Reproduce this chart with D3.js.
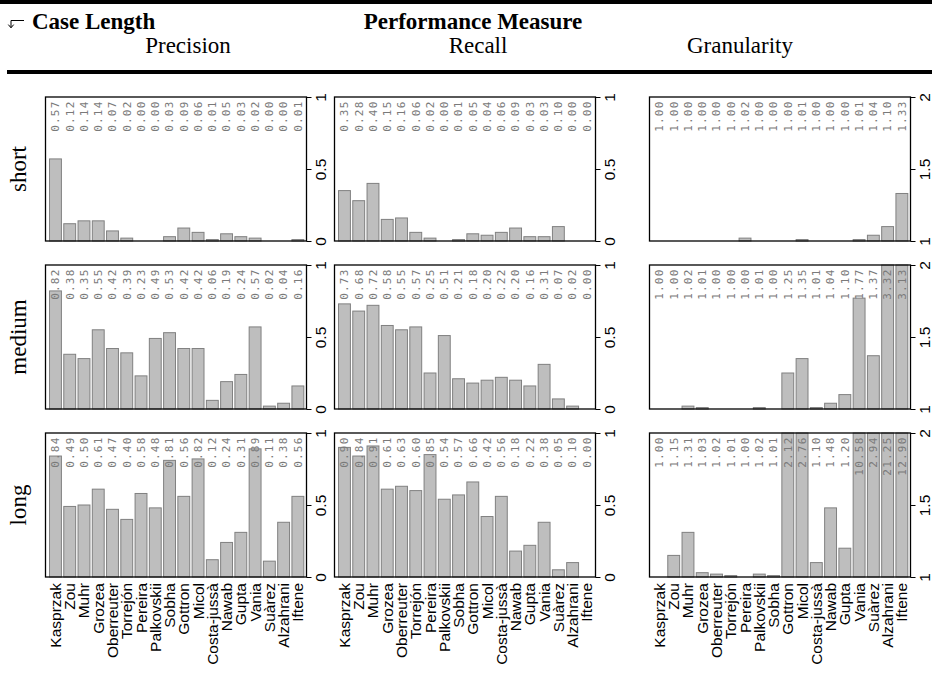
<!DOCTYPE html>
<html><head><meta charset="utf-8">
<script src="https://cdn.jsdelivr.net/npm/d3@7/dist/d3.min.js"></script>
<style>body{margin:0;background:#fff}svg{display:block}</style>
</head><body>
<svg id="c" width="932" height="682"></svg>
<script>
const methods = ["Kasprzak","Zou","Muhr","Grozea","Oberreuter","Torrejón","Pereira","Palkovskii","Sobha","Gottron","Micol","Costa-jussà","Nawab","Gupta","Vania","Suàrez","Alzahrani","Iftene"];
const rowNames = ["short","medium","long"];
const measureNames = ["Precision","Recall","Granularity"];

const precisionShort  = [0.57,0.12,0.14,0.14,0.07,0.02,0.00,0.00,0.03,0.09,0.06,0.01,0.05,0.03,0.02,0.00,0.00,0.01];
const precisionMedium = [0.82,0.38,0.35,0.55,0.42,0.39,0.23,0.49,0.53,0.42,0.42,0.06,0.19,0.24,0.57,0.02,0.04,0.16];
const precisionLong   = [0.84,0.49,0.50,0.61,0.47,0.40,0.58,0.48,0.81,0.56,0.82,0.12,0.24,0.31,0.89,0.11,0.38,0.56];

const recallShort  = [0.35,0.28,0.40,0.15,0.16,0.06,0.02,0.00,0.01,0.05,0.04,0.06,0.09,0.03,0.03,0.10,0.00,0.00];
const recallMedium = [0.73,0.68,0.72,0.58,0.55,0.57,0.25,0.51,0.21,0.18,0.20,0.22,0.20,0.16,0.31,0.07,0.02,0.00];
const recallLong   = [0.90,0.84,0.91,0.61,0.63,0.60,0.85,0.54,0.57,0.66,0.42,0.56,0.18,0.22,0.38,0.05,0.10,0.00];

const granularityShort  = [1.00,1.00,1.00,1.00,1.00,1.00,1.02,1.00,1.00,1.00,1.01,1.00,1.00,1.00,1.01,1.04,1.10,1.33];
const granularityMedium = [1.00,1.00,1.02,1.01,1.00,1.00,1.00,1.01,1.00,1.25,1.35,1.01,1.04,1.10,1.77,1.37,3.32,3.13];
const granularityLong   = [1.00,1.15,1.31,1.03,1.02,1.01,1.00,1.02,1.01,2.12,2.76,1.10,1.48,1.20,10.58,2.94,21.25,12.90];

const prTicks = [0, 0.5, 1];
const granTicks = [1, 1.5, 2];

const grid = [
  [precisionShort, recallShort, granularityShort],
  [precisionMedium, recallMedium, granularityMedium],
  [precisionLong, recallLong, granularityLong]
];
const domains = [[0,1],[0,1],[1,2]];
const tickSets = [prTicks, prTicks, granTicks];

// layout
const colX = [45.5, 334.5, 649.5];
const panelW = 261;
const rowY = [97, 265, 433];
const panelH = 144;

const svg = d3.select("#c");

// header rules
svg.append("rect").attr("x",0).attr("y",0).attr("width",932).attr("height",4).attr("fill","#000");
svg.append("rect").attr("x",7).attr("y",70).attr("width",925).attr("height",4).attr("fill","#000");

// arrow glyph
svg.append("path").attr("d","M24,20.5 H11 V27.5 M8.3,24.6 L11,27.8 L13.7,24.6")
  .attr("fill","none").attr("stroke","#000").attr("stroke-width",1);

const serif = "'Liberation Serif','Times New Roman',serif";
const sans = "'Liberation Sans',Arial,sans-serif";
const mono = "'DejaVu Sans Mono',monospace";

svg.append("text").attr("x",32).attr("y",29).attr("font-family",serif).attr("font-weight","bold")
  .attr("font-size",23).text("Case Length");
svg.append("text").attr("x",473).attr("y",29).attr("text-anchor","middle").attr("font-family",serif)
  .attr("font-weight","bold").attr("font-size",23).text("Performance Measure");
const headX = [188, 478, 740];
measureNames.forEach((m,i)=>{
  svg.append("text").attr("x",headX[i]).attr("y",53).attr("text-anchor","middle")
    .attr("font-family",serif).attr("font-size",23).text(m);
});

const x = d3.scaleBand().domain(methods).range([0,panelW]).paddingInner(1/6).paddingOuter(0.235).align(0.6);

rowNames.forEach((rn, r)=>{
  // row label
  svg.append("text")
    .attr("transform",`translate(25.5,${rowY[r]+panelH/2}) rotate(-90)`)
    .attr("text-anchor","middle").attr("font-family",serif).attr("font-size",23).text(rn);

  grid[r].forEach((vals, c)=>{
    const g = svg.append("g").attr("transform",`translate(${colX[c]},${rowY[r]})`);
    const dom = domains[c];
    const y = d3.scaleLinear().domain(dom).range([panelH,0]).clamp(true);

    g.selectAll("rect.bar").data(vals).join("rect").attr("class","bar")
      .attr("x",(d,i)=>x(methods[i]))
      .attr("width",x.bandwidth())
      .attr("y",d=>y(d))
      .attr("height",d=>y(dom[0])-y(d))
      .attr("fill","#bebebe").attr("stroke","#808080").attr("stroke-width",1);

    g.selectAll("text.val").data(vals).join("text").attr("class","val")
      .attr("transform",(d,i)=>`translate(${x(methods[i])+x.bandwidth()/2+3.8},3.5) rotate(-90)`)
      .attr("text-anchor","end").attr("font-family",mono).attr("font-size",11)
      .attr("letter-spacing","1.2px").attr("fill","#7a7a7a")
      .text(d=>d.toFixed(2));

    g.append("rect").attr("x",0).attr("y",0).attr("width",panelW).attr("height",panelH)
      .attr("fill","none").attr("stroke","#000").attr("stroke-width",1.3);

    const ax = g.append("g").attr("transform",`translate(${panelW},0)`)
      .call(d3.axisRight(y).tickValues(tickSets[c]).tickSize(5).tickSizeOuter(0).tickFormat(d=>String(d)));
    ax.select(".domain").remove();
    ax.selectAll(".tick line").attr("stroke","#000").attr("stroke-width",1);
    ax.selectAll(".tick text").attr("x",null).attr("dy",null)
      .attr("transform","translate(19.5,0) rotate(-90)")
      .attr("text-anchor","middle").attr("font-family",sans).attr("font-size",15.5).attr("fill","#000");

    if (r === 2) {
      g.selectAll("text.name").data(methods).join("text").attr("class","name")
        .attr("transform",d=>`translate(${x(d)+x.bandwidth()/2+5.5},${panelH+6}) rotate(-90)`)
        .attr("text-anchor","end").attr("font-family",sans).attr("font-size",15.5).text(d=>d);
    }
  });
});
</script>
</body></html>
